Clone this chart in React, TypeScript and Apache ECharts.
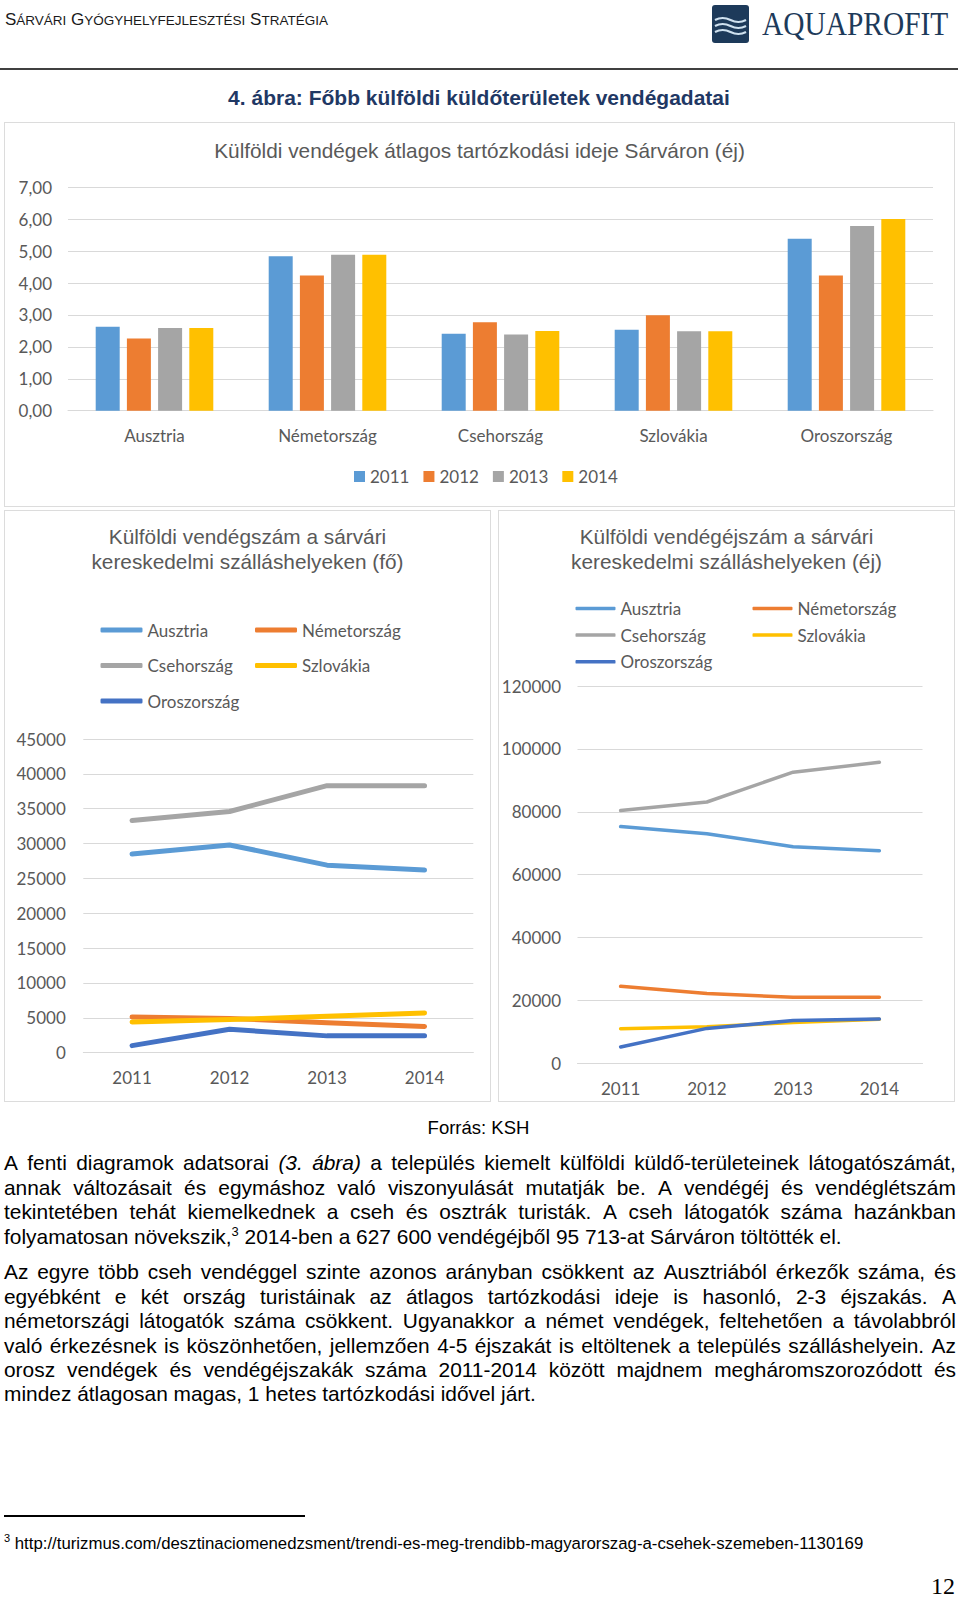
import React, { useEffect, useRef } from "react";
import * as echarts from "echarts";

// ---------- DATA ----------
const years = ["2011", "2012", "2013", "2014"];
const countries = ["Ausztria", "Németország", "Csehország", "Szlovákia", "Oroszország"];

// Average length of stay (nights), values per country for each year
const stay2011 = [2.63, 4.84, 2.41, 2.54, 5.39];
const stay2012 = [2.26, 4.24, 2.77, 2.99, 4.24];
const stay2013 = [2.59, 4.89, 2.39, 2.49, 5.79];
const stay2014 = [2.59, 4.89, 2.5, 2.49, 6.01];

// Foreign guests (persons)
const guestsAusztria = [28500, 29800, 26900, 26200];
const guestsNemetorszag = [5100, 4900, 4300, 3750];
const guestsCsehorszag = [33300, 34600, 38300, 38300];
const guestsSzlovakia = [4400, 4750, 5200, 5700];
const guestsOroszorszag = [1000, 3350, 2400, 2400];

// Foreign guest nights
const nightsAusztria = [75300, 73000, 68900, 67600];
const nightsNemetorszag = [24500, 22200, 21000, 21000];
const nightsCsehorszag = [80400, 83100, 92600, 95713];
const nightsSzlovakia = [11000, 11600, 13000, 14000];
const nightsOroszorszag = [5200, 11100, 13600, 14100];

const yearColors = ["#5B9BD5", "#ED7D31", "#A5A5A5", "#FFC000"];
const countryColors = ["#5B9BD5", "#ED7D31", "#A5A5A5", "#FFC000", "#4472C4"];

const LABEL = "#595959";
const GRID = "#d9d9d9";
const SANS = '"Liberation Sans", Arial, Helvetica, sans-serif';
const LATO = "Lato, Calibri, sans-serif";

// ---------- CHART HELPERS ----------
function EChart({ option, style }: { option: any; style: React.CSSProperties }) {
  const ref = useRef<HTMLDivElement>(null);
  useEffect(() => {
    const chart = echarts.init(ref.current as HTMLDivElement, null, { renderer: "svg" });
    chart.setOption(option);
    return () => chart.dispose();
  }, []);
  return <div ref={ref} style={style} />;
}

const labelStyle = { fontFamily: LATO, fontSize: 17, color: LABEL, lineHeight: 20 };

function barOption() {
  const stays = [stay2011, stay2012, stay2013, stay2014];
  return {
    animation: false,
    title: {
      text: "Külföldi vendégek átlagos tartózkodási ideje Sárváron (éj)",
      left: "center",
      top: 15.5,
      padding: 0,
      textStyle: { fontFamily: SANS, fontSize: 20.8, fontWeight: "normal", color: LABEL, lineHeight: 25 },
    },
    legend: {
      data: years,
      left: 350,
      top: 344.5,
      padding: 0,
      icon: "rect",
      itemWidth: 11,
      itemHeight: 11,
      itemGap: 14,
      textStyle: labelStyle,
    },
    grid: { left: 64, top: 65.3, width: 865, height: 223.4 },
    xAxis: {
      type: "category",
      data: countries,
      axisLine: { lineStyle: { color: GRID, width: 1 } },
      axisTick: { show: false },
      axisLabel: { ...labelStyle, margin: 14.3 },
    },
    yAxis: {
      type: "value",
      min: 0,
      max: 7,
      interval: 1,
      axisLine: { show: false },
      axisTick: { show: false },
      splitLine: { lineStyle: { color: GRID, width: 1 } },
      axisLabel: {
        ...labelStyle,
        margin: 16,
        formatter: (v: number) => v.toFixed(2).replace(".", ","),
      },
    },
    series: years.map((y, i) => ({
      name: y,
      type: "bar",
      data: stays[i],
      barWidth: 24,
      barGap: "30%",
      itemStyle: { color: yearColors[i] },
    })),
  };
}

function lineOption(cfg: {
  title: string;
  titleTop: number;
  series: number[][];
  lineWidth: number;
  legendTop: number;
  legendGap: number;
  legendLeft1: number;
  legendLeft2: number;
  legendItemWidth: number;
  grid: any;
  max: number;
  interval: number;
  yMargin: number;
  xMargin: number;
}) {
  const legendBase = {
    orient: "vertical",
    top: cfg.legendTop,
    padding: 0,
    icon: "roundRect",
    itemWidth: cfg.legendItemWidth,
    itemHeight: cfg.lineWidth,
    itemGap: cfg.legendGap,
    textStyle: labelStyle,
  };
  return {
    animation: false,
    title: {
      text: cfg.title,
      left: "center",
      top: cfg.titleTop,
      padding: 0,
      textStyle: { fontFamily: SANS, fontSize: 20.8, fontWeight: "normal", color: LABEL, lineHeight: 24.8 },
    },
    legend: [
      { ...legendBase, left: cfg.legendLeft1, data: [countries[0], countries[2], countries[4]] },
      { ...legendBase, left: cfg.legendLeft2, data: [countries[1], countries[3]] },
    ],
    grid: cfg.grid,
    xAxis: {
      type: "category",
      data: years,
      axisLine: { lineStyle: { color: GRID, width: 1 } },
      axisTick: { show: false },
      axisLabel: { ...labelStyle, margin: cfg.xMargin },
    },
    yAxis: {
      type: "value",
      min: 0,
      max: cfg.max,
      interval: cfg.interval,
      axisLine: { show: false },
      axisTick: { show: false },
      splitLine: { lineStyle: { color: GRID, width: 1 } },
      axisLabel: { ...labelStyle, margin: cfg.yMargin, formatter: (v: number) => String(v) },
    },
    series: countries.map((c, i) => ({
      name: c,
      type: "line",
      data: cfg.series[i],
      symbol: "none",
      lineStyle: { color: countryColors[i], width: cfg.lineWidth, cap: "round", join: "round" },
      itemStyle: { color: countryColors[i] },
    })),
  };
}

// ---------- TEXT ----------
const para1 = [
  "A fenti diagramok adatsorai *(3.* *ábra)* a település kiemelt külföldi küldő-területeinek látogatószámát,",
  "annak változásait és egymáshoz való viszonyulását mutatják be. A vendégéj és vendéglétszám",
  "tekintetében tehát kiemelkednek a cseh és osztrák turisták. A cseh látogatók száma hazánkban",
];
const para2 = [
  "Az egyre több cseh vendéggel szinte azonos arányban csökkent az Ausztriából érkezők száma, és",
  "egyébként e két ország turistáinak az átlagos tartózkodási ideje is hasonló, 2-3 éjszakás. A",
  "németországi látogatók száma csökkent. Ugyanakkor a német vendégek, feltehetően a távolabbról",
  "való érkezésnek is köszönhetően, jellemzően 4-5 éjszakát is eltöltenek a település szálláshelyein. Az",
  "orosz vendégek és vendégéjszakák száma 2011-2014 között majdnem megháromszorozódott és",
];
const para2Last = "mindez átlagosan magas, 1 hetes tartózkodási idővel járt.";

const PFONT = 20.9;
const PLH = 24.4;

function JustLine({ text, top }: { text: string; top: number }) {
  const tokens = text.split(" ");
  return (
    <div
      style={{
        position: "absolute",
        left: 4,
        width: 952,
        top,
        height: PLH,
        lineHeight: PLH + "px",
        fontSize: PFONT,
        display: "flex",
        justifyContent: "space-between",
        whiteSpace: "nowrap",
      }}
    >
      {tokens.map((t, i) =>
        t.startsWith("*") && t.endsWith("*") ? <i key={i}>{t.slice(1, -1)}</i> : <span key={i}>{t}</span>
      )}
    </div>
  );
}

const sup: React.CSSProperties = { fontSize: "0.62em", position: "relative", top: "-0.55em", lineHeight: 0 };

export default function App() {
  const big = { fontSize: 17 };
  const small = { fontSize: 13.5 };
  const box = (l: number, t: number, w: number, h: number): React.CSSProperties => ({
    position: "absolute",
    left: l,
    top: t,
    width: w,
    height: h,
    boxSizing: "border-box",
    border: "1.5px solid #dcdcdc",
    pointerEvents: "none",
  });

  const p1Top = 1151.4;
  const p2Top = 1260.4;

  return (
    <div
      style={{
        position: "absolute",
        left: 0,
        top: 0,
        width: 960,
        height: 1597,
        background: "#fff",
        overflow: "hidden",
        fontFamily: SANS,
        color: "#000",
      }}
    >
      {/* Header */}
      <div style={{ position: "absolute", left: 5, top: 8, height: 24, lineHeight: "24px", whiteSpace: "nowrap", color: "#1a1a1a" }}>
        <span style={big}>S</span>
        <span style={small}>ÁRVÁRI</span>
        <span style={big}> G</span>
        <span style={small}>YÓGYHELYFEJLESZTÉSI</span>
        <span style={big}> S</span>
        <span style={small}>TRATÉGIA</span>
      </div>
      <svg style={{ position: "absolute", left: 712, top: 5 }} width={37} height={38}>
        <rect x={0} y={0} width={37} height={38} rx={3} fill="#1d3a5a" />
        <path d="M3 15 Q10.5 11 18.5 15 T34 15" stroke="#cfe1ef" strokeWidth={2.2} fill="none" />
        <path d="M3 21 Q10.5 17 18.5 21 T34 21" stroke="#cfe1ef" strokeWidth={2.2} fill="none" />
        <path d="M3 27 Q10.5 23 18.5 27 T34 27" stroke="#cfe1ef" strokeWidth={2.2} fill="none" />
      </svg>
      <div
        style={{
          position: "absolute",
          left: 762,
          top: 7,
          fontFamily: '"Liberation Serif", "Times New Roman", serif',
          fontSize: 34,
          lineHeight: "34px",
          color: "#1d3a5a",
          whiteSpace: "nowrap",
          transform: "scaleX(0.865)",
          transformOrigin: "left top",
        }}
      >
        AQUAPROFIT
      </div>
      <div style={{ position: "absolute", left: 0, top: 68, width: 958, height: 2, background: "#404040" }} />

      {/* Figure title */}
      <div
        style={{
          position: "absolute",
          left: 0,
          top: 85.5,
          width: 958,
          textAlign: "center",
          fontWeight: "bold",
          fontSize: 21,
          lineHeight: "24px",
          color: "#1F3864",
        }}
      >
        4. ábra: Főbb külföldi küldőterületek vendégadatai
      </div>

      {/* Charts */}
      <EChart option={barOption()} style={{ position: "absolute", left: 4, top: 122, width: 951, height: 385 }} />
      <EChart
        option={lineOption({
          title: "Külföldi vendégszám a sárvári\nkereskedelmi szálláshelyeken (fő)",
          titleTop: 14.2,
          series: [guestsAusztria, guestsNemetorszag, guestsCsehorszag, guestsSzlovakia, guestsOroszorszag],
          lineWidth: 5,
          legendTop: 110,
          legendGap: 15.5,
          legendLeft1: 96.5,
          legendLeft2: 251,
          legendItemWidth: 42,
          grid: { left: 79.3, top: 229, width: 390, height: 313.6 },
          max: 45000,
          interval: 5000,
          yMargin: 17.5,
          xMargin: 15,
        })}
        style={{ position: "absolute", left: 4, top: 510, width: 487, height: 592 }}
      />
      <EChart
        option={lineOption({
          title: "Külföldi vendégéjszám a sárvári\nkereskedelmi szálláshelyeken (éj)",
          titleTop: 14.4,
          series: [nightsAusztria, nightsNemetorszag, nightsCsehorszag, nightsSzlovakia, nightsOroszorszag],
          lineWidth: 3.5,
          legendTop: 88.4,
          legendGap: 6.7,
          legendLeft1: 77.5,
          legendLeft2: 254.5,
          legendItemWidth: 40,
          grid: { left: 79.5, top: 176, width: 345, height: 377.3 },
          max: 120000,
          interval: 20000,
          yMargin: 16.5,
          xMargin: 14.7,
        })}
        style={{ position: "absolute", left: 498, top: 510, width: 457, height: 592 }}
      />
      <div style={box(4, 122, 951, 385)} />
      <div style={box(4, 510, 487, 592)} />
      <div style={box(498, 510, 457, 592)} />

      {/* Source */}
      <div style={{ position: "absolute", left: 0, top: 1116.5, width: 957, textAlign: "center", fontSize: 18.5, lineHeight: "22px" }}>
        Forrás: KSH
      </div>

      {/* Paragraph 1 */}
      {para1.map((l, i) => (
        <JustLine key={"a" + i} text={l} top={p1Top + i * PLH} />
      ))}
      <div style={{ position: "absolute", left: 4, top: p1Top + 3 * PLH, height: PLH, lineHeight: PLH + "px", fontSize: PFONT, whiteSpace: "nowrap" }}>
        folyamatosan növekszik,<span style={sup}>3</span> 2014-ben a 627 600 vendégéjből 95 713-at Sárváron töltötték el.
      </div>

      {/* Paragraph 2 */}
      {para2.map((l, i) => (
        <JustLine key={"b" + i} text={l} top={p2Top + i * PLH} />
      ))}
      <div style={{ position: "absolute", left: 4, top: p2Top + 5 * PLH, height: PLH, lineHeight: PLH + "px", fontSize: PFONT, whiteSpace: "nowrap" }}>
        {para2Last}
      </div>

      {/* Footnote */}
      <div style={{ position: "absolute", left: 4, top: 1515, width: 301, height: 1.5, background: "#000" }} />
      <div style={{ position: "absolute", left: 4, top: 1533.5, fontSize: 16.8, lineHeight: "20px", whiteSpace: "nowrap" }}>
        <span style={{ fontSize: 11, position: "relative", top: -7 }}>3</span> http://turizmus.com/desztinaciomenedzsment/trendi-es-meg-trendibb-magyarorszag-a-csehek-szemeben-1130169
      </div>

      {/* Page number */}
      <div
        style={{
          position: "absolute",
          left: 800,
          top: 1571.5,
          width: 155,
          textAlign: "right",
          fontFamily: '"Liberation Serif", "Times New Roman", serif',
          fontSize: 24,
          lineHeight: "28px",
        }}
      >
        12
      </div>
    </div>
  );
}
